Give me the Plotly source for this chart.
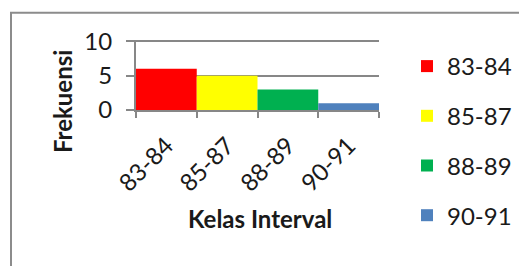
import plotly.graph_objects as go

categories = ["83-84", "85-87", "88-89", "90-91"]
frequencies = [6, 5, 3, 1]
colors = ["#FF0000", "#FFFF00", "#00B050", "#4F81BD"]
y_ticks = [0, 5, 10]

OFF = 8  # page body margin
W, H = 527 - OFF, 266 - OFF
# plot area in page pixels
PX0, PX1, PY0, PY1 = 136, 379, 39.5, 110
L, R, T, B = PX0 - OFF, W - (PX1 - OFF), PY0 - OFF, H - (PY1 - OFF)
pw, ph = W - L - R, H - T - B

def px(x):
    return (x - OFF - L) / pw

def py(y):
    return (H - B - (y - OFF)) / ph

def cy(y):
    return 1 - (y - OFF) / H

FONT = "Lato"
fig = go.Figure()
for i, (c, v) in enumerate(zip(categories, frequencies)):
    fig.add_trace(go.Bar(x=[c], y=[v], name=c, marker=dict(color=colors[i], line=dict(width=0)),
                         width=1, legendgroup=f"g{i}"))

fig.update_layout(
    width=W, height=H,
    margin=dict(l=L, r=R, t=T, b=B, autoexpand=False),
    paper_bgcolor="white", plot_bgcolor="white",
    barmode="overlay",
    font=dict(family=FONT, size=24, color="#1a1a1a"),
    showlegend=True,
    legend=dict(x=px(407), y=cy(44), xanchor="left", yanchor="top", yref="container",
                maxheight=H,
                tracegroupgap=15.5, font=dict(size=24, family=FONT),
                bgcolor="rgba(0,0,0,0)"),
    xaxis=dict(type="category", categoryorder="array", categoryarray=categories,
               range=[-0.5, 3.5], showline=True, linecolor="#878787", linewidth=2,
               ticks="outside", tickson="boundaries", ticklen=6, tickcolor="#878787",
               tickwidth=2, tickangle=-45, tickfont=dict(size=24, family=FONT),
               showgrid=False, automargin=False, ticklabelstandoff=10),
    yaxis=dict(range=[0, 10.2], tickvals=y_ticks, showline=True, linecolor="#878787", linewidth=2,
               ticks="outside", ticklen=8, tickcolor="#878787", tickwidth=2,
               showgrid=True, gridcolor="#878787", gridwidth=2, zeroline=False,
               tickfont=dict(size=24, family=FONT), automargin=False, ticklabelstandoff=9),
    annotations=[
        dict(text="<b>Frekuensi</b>", textangle=-90, x=px(62), y=py(102),
             xref="paper", yref="paper", showarrow=False, xanchor="center", yanchor="middle",
             font=dict(size=24, family=FONT)),
        dict(text="<b>Kelas Interval</b>", x=px(260), y=py(219),
             xref="paper", yref="paper", showarrow=False, xanchor="center", yanchor="middle",
             font=dict(size=24, family=FONT)),
    ],
    shapes=[dict(type="rect", xref="paper", yref="paper",
                 x0=px(11), y0=py(290), x1=px(560), y1=py(12),
                 line=dict(color="#8c8c8c", width=2), layer="below")],
)

fig.write_html("out.html")
